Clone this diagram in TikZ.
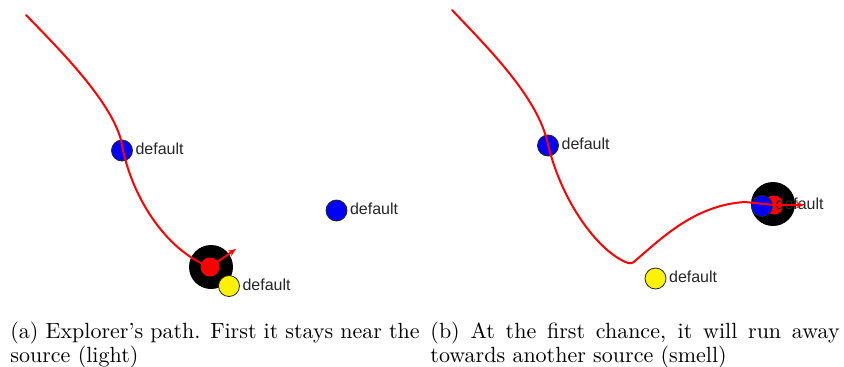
\documentclass[tikz,border=0pt]{standalone}
\usepackage{fontspec}
\newfontfamily\lblfont{Liberation Sans}
\usetikzlibrary{arrows.meta}
\begin{document}
\begin{tikzpicture}[x=1pt,y=-1pt,
  trail/.style={red, line width=2pt, line join=round, line cap=round},
  heading/.style={red, line width=2pt, -{Stealth[length=8pt,width=6.5pt]}},
  zone/.style={circle, fill=black, minimum size=44pt, inner sep=0pt},
  bot/.style={circle, fill=red, minimum size=19pt, inner sep=0pt},
  bluesrc/.style={circle, fill=blue, draw=black!85, line width=0.8pt, minimum size=21pt, inner sep=0pt},
  yellowsrc/.style={circle, fill=yellow, draw=black!85, line width=0.8pt, minimum size=21pt, inner sep=0pt},
  lbl/.style={font=\lblfont\fontsize{16}{16}\selectfont, inner sep=0pt, anchor=base west, text=black!85, xshift=2.5pt, yshift=-4pt},
  captext/.style={scale=2.2, text width=186pt, align=justify, inner sep=0pt, anchor=base west, font=\fontsize{10}{11}\selectfont}]
\useasboundingbox (0,0) rectangle (844,367);

% ---------- panel (a) ----------
\node[zone] (za) at (211,267) {};
\node[bot] (ra) at (210,267) {};
\node[yellowsrc] (ya) at (229,286) {};
\node[bluesrc] (a1) at (122,150.5) {};
\node[bluesrc] (a2) at (336.5,210.5) {};
\node[lbl] (la1) at (a1.east) {default};
\node[lbl] (la2) at (a2.east) {default};
\node[lbl] (la3) at (ya.east) {default};
\coordinate (sa) at (26,15);
\draw[trail] (sa) .. controls (60,50) and (110,100) .. (121,140)
                  .. controls (130,195) and (165,250) .. (ra.center);
\coordinate (ha) at (236,249);
\draw[heading] (ra.center) -- (ha);

% ---------- panel (b) ----------
\node[zone] (zb) at (773,204) {};
\node[bot] (rb) at (774,205) {};
\node[bluesrc] (b2) at (762,206) {};
\node[bluesrc] (b1) at (548,145.5) {};
\node[yellowsrc] (yb) at (655.5,278.5) {};
\node[lbl] (lb1) at (b1.east) {default};
\node[lbl] (lb2) at (yb.east) {default};
\node[lbl, yshift=1pt] (lb3) at (b2.east) {default};
\coordinate (sb) at (452,10);
\draw[trail] (sb) .. controls (490,50) and (535,95) .. (547,140)
                  .. controls (560,200) and (598,252) .. (628,263)
                  .. controls (631,264) and (633,263) .. (636,260)
                  .. controls (662,238) and (695,205) .. (745,202)
                  -- (rb.center);
\coordinate (hb) at (804,205);
\draw[heading] (rb.center) -- (hb);

% ---------- captions ----------
\node[captext] (capa) at (10,338) {(a) Explorer's path. First it stays near the\linebreak source (light)};
\node[captext] (capb) at (430,338) {(b) At the first chance, it will run away\linebreak towards another source (smell)};
\end{tikzpicture}
\end{document}
